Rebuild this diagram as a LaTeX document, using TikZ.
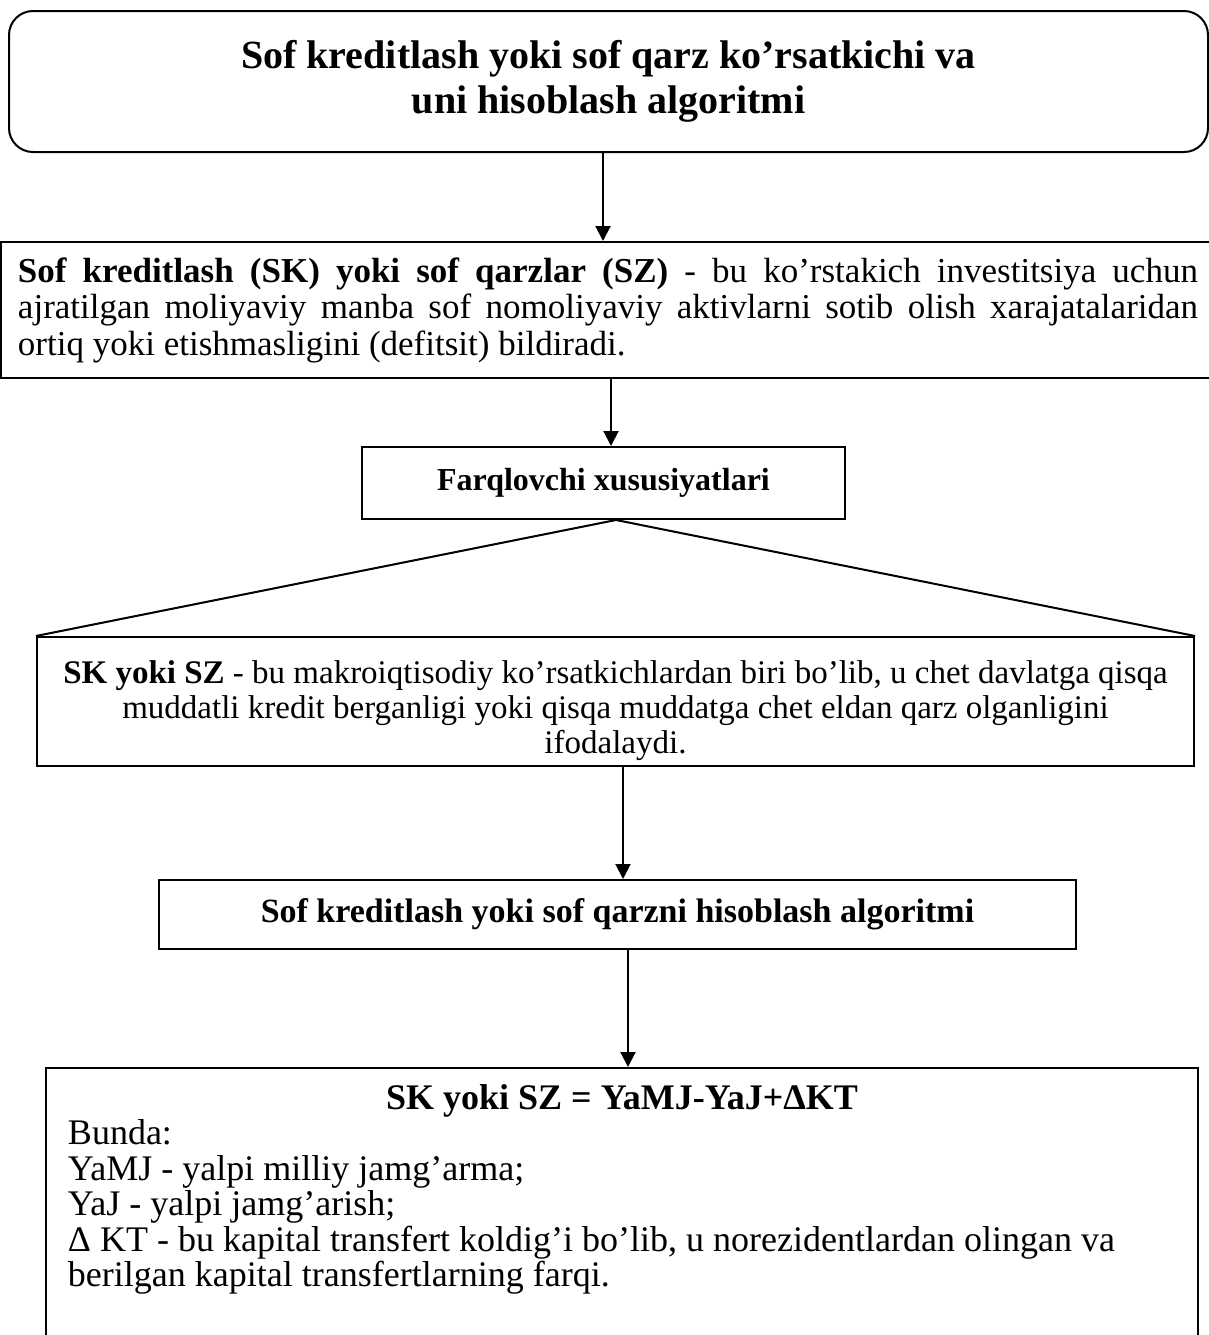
\documentclass[tikz,border=0pt]{standalone}
\usepackage{fontspec}
\setmainfont{Liberation Serif}
\usetikzlibrary{arrows.meta}

\begin{document}
\begin{tikzpicture}[
    x=0.5pt, y=-0.5pt,
    box/.style={rectangle, draw, line width=1pt, inner sep=0pt, align=center},
    titlebox/.style={box, rounded corners=12pt},
    arrow/.style={-{Triangle[length=7.5pt,width=7.5pt]}, line width=1pt}
]
\useasboundingbox (0,0) rectangle (1209,1335);

\node[titlebox, minimum width=599.5pt, minimum height=70.5pt, font=\fontsize{20}{22.5}\selectfont\bfseries] (title) at (608.5,81.5)
  {Sof kreditlash yoki sof qarz ko’rsatkichi va\\uni hisoblash algoritmi};
\node[box, text width=590pt, minimum width=607pt, minimum height=68pt, align=justify, font=\fontsize{17.5}{18.25}\selectfont] (def) at (608,310)
  {{\bfseries Sof kreditlash (SK) yoki sof qarzlar (SZ)} - bu ko’rstakich investitsiya uchun\linebreak
   ajratilgan moliyaviy manba sof nomoliyaviy aktivlarni sotib olish xarajatalaridan\linebreak
   ortiq yoki etishmasligini (defitsit) bildiradi.};
\node[box, minimum width=241.5pt, minimum height=36pt, font=\fontsize{16}{18}\selectfont\bfseries] (farq) at (603.5,483)
  {Farqlovchi xususiyatlari};
\node[box, anchor=north, text width=570pt, minimum width=578.5pt, text height=23pt, text depth=41.5pt, align=flush center, font=\fontsize{16.5}{17.5}\selectfont] (sk) at (615.5,636)
  {\centering{\bfseries SK yoki SZ} - bu makroiqtisodiy ko’rsatkichlardan biri bo’lib, u chet davlatga qisqa\\
   muddatli kredit berganligi yoki qisqa muddatga chet eldan qarz olganligini\\
   ifodalaydi.};
\node[box, minimum width=458.5pt, minimum height=34.5pt, font=\fontsize{17}{18}\selectfont\bfseries] (alg) at (617.5,914.5)
  {Sof kreditlash yoki sof qarzni hisoblash algoritmi};
\node[box, anchor=north, text width=554pt, minimum width=576pt, text height=20.5pt, text depth=120pt, align=flush left, font=\fontsize{18}{17.75}\selectfont] (formula) at (622,1067)
  {{\centering\bfseries SK yoki SZ = YaMJ-YaJ+ΔKT\par}
   Bunda:\\
   YaMJ - yalpi milliy jamg’arma;\\
   YaJ - yalpi jamg’arish;\\
   Δ KT - bu kapital transfert koldig’i bo’lib, u norezidentlardan olingan va\\
   berilgan kapital transfertlarning farqi.};

\draw[arrow] ([xshift=-2.75pt]title.south) -- ([xshift=-2.5pt]def.north);
\draw[arrow] ([xshift=1.5pt]def.south) -- ([xshift=3.75pt]farq.north);
\draw[line width=1pt] (sk.north west) -- ([xshift=6.25pt]farq.south) -- (sk.north east);
\draw[arrow] ([xshift=3.75pt]sk.south) -- ([xshift=2.75pt]alg.north);
\draw[arrow] ([xshift=5.25pt]alg.south) -- ([xshift=3pt]formula.north);
\end{tikzpicture}
\end{document}
